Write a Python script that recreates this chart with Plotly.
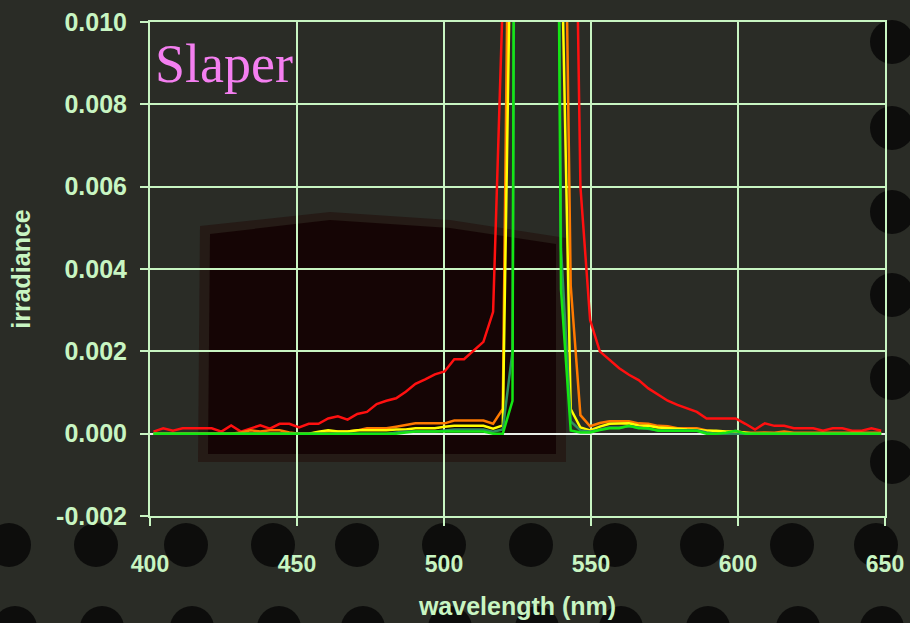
import plotly.graph_objects as go

# ---------------- data ----------------
wavelength = [
    401.2, 404.5, 407.8, 411.1, 414.4, 417.7, 421.0, 424.3, 427.6, 430.9,
    434.2, 437.5, 440.8, 444.1, 447.4, 450.7, 454.0, 457.3, 460.6, 463.9,
    467.2, 470.5, 473.8, 477.1, 480.4, 483.7, 487.0, 490.3, 493.6, 496.9,
    500.2, 503.5, 506.8, 510.1, 513.4, 516.7, 520.0, 523.3, 526.6, 529.9,
    533.2, 536.5, 539.8, 543.1, 546.4, 549.7, 553.0, 556.3, 559.6, 562.9,
    566.2, 569.5, 572.8, 576.1, 579.4, 582.7, 586.0, 589.3, 592.6, 595.9,
    599.2, 602.5, 605.8, 609.1, 612.4, 615.7, 619.0, 622.3, 625.6, 628.9,
    632.2, 635.5, 638.8, 642.1, 645.4, 648.7,
]

red = [
    0.00005, 0.00013, 0.00007, 0.00013, 0.00013, 0.00013, 0.00013, 0.00005, 0.00020, 0.00005,
    0.00012, 0.00020, 0.00012, 0.00024, 0.00024, 0.00015, 0.00024, 0.00024, 0.00037, 0.00042,
    0.00034, 0.00048, 0.00053, 0.00072, 0.00080, 0.00086, 0.00102, 0.00121, 0.00132, 0.00144,
    0.00151, 0.00181, 0.00181, 0.00202, 0.00223, 0.00296, 0.0106, 0.030, 0.060, 0.080,
    0.070, 0.050, 0.035, 0.0216, 0.0060, 0.00276, 0.00200, 0.00179, 0.00159, 0.00143,
    0.00130, 0.00110, 0.00094, 0.00080, 0.00070, 0.00062, 0.00053, 0.00037, 0.00037, 0.00037,
    0.00037, 0.00024, 0.00010, 0.00025, 0.00019, 0.00019, 0.00013, 0.00013, 0.00013, 0.00007,
    0.00013, 0.00013, 0.00007, 0.00007, 0.00013, 0.00007,
]

orange = [
    0, 0, 0, 0, 0, 0, 0, 0, 0, 0.00003,
    0.00008, 0.00005, 0.00008, 0.00008, 0.00003, 0, 0, 0.00003, 0.00005, 0.00005,
    0.00005, 0.00008, 0.00013, 0.00013, 0.00013, 0.00017, 0.00021, 0.00025, 0.00025, 0.00025,
    0.00025, 0.00032, 0.00032, 0.00032, 0.00032, 0.00024, 0.00060, 0.022, 0.060, 0.080,
    0.070, 0.045, 0.0209, 0.0036, 0.00045, 0.00018, 0.00026, 0.00030, 0.00030, 0.00030,
    0.00025, 0.00024, 0.00019, 0.00018, 0.00013, 0.00013, 0.00013, 0.00008, 0.00005, 0.00003,
    0.00005, 0.00002, 0.00002, 0.00003, 0.00002, 0.00005, 0.00002, 0.00002, 0.00002, 0.00002,
    0.00002, 0.00002, 0.00002, 0.00002, 0.00002, 0.00002,
]

yellow = [
    0, 0, 0, 0, 0, 0, 0, 0, 0, 0,
    0, 0, 0, 0, 0, 0, 0, 0.00005, 0.00008, 0.00005,
    0.00005, 0.00008, 0.00008, 0.00008, 0.00008, 0.00010, 0.00010, 0.00013, 0.00013, 0.00013,
    0.00017, 0.00019, 0.00019, 0.00019, 0.00019, 0.00012, 0.00020, 0.0153, 0.050, 0.070,
    0.060, 0.035, 0.0126, 0.0006, 0.00015, 0.00008, 0.00017, 0.00024, 0.00025, 0.00025,
    0.00020, 0.00019, 0.00015, 0.00013, 0.00011, 0.00010, 0.00009, 0.00007, 0.00007, 0.00005,
    0.00005, 0.00002, 0, 0, 0, 0, 0, 0, 0, 0,
    0, 0, 0, 0, 0, 0,
]

dark_green = [
    0, 0, 0, 0, 0, 0, 0, 0, 0, 0,
    0, 0, 0, 0, 0, 0, 0, 0, 0, 0,
    0, 0, 0, 0, 0, 0.00003, 0.00005, 0.00005, 0.00005, 0.00005,
    0.00008, 0.00010, 0.00010, 0.00010, 0.00010, 0.00005, 0.00010, 0.0020, 0.060, 0.080,
    0.070, 0.040, 0.0045, 0.0003, 0.00008, 0.00005, 0.00010, 0.00015, 0.00015, 0.00018,
    0.00015, 0.00012, 0.00008, 0.00008, 0.00008, 0.00008, 0.00008, 0.00003, 0, 0,
    0, 0, 0, 0, 0, 0, 0, 0, 0, 0,
    0, 0, 0, 0, 0, 0,
]

green = [
    0, 0, 0, 0, 0, 0, 0, 0, 0, 0,
    0, 0, 0, 0, 0, 0, 0, 0, 0, 0,
    0, 0, 0, 0, 0, 0, 0.00003, 0.00005, 0.00005, 0.00005,
    0.00005, 0.00005, 0.00005, 0.00005, 0.00005, 0, 0, 0.0008, 0.080, 0.090,
    0.080, 0.036, 0.0035, 0.00008, 0.00003, 0.00003, 0.00009, 0.00013, 0.00013, 0.00019,
    0.00013, 0.00013, 0.00007, 0.00007, 0.00007, 0.00007, 0.00007, 0, 0, 0.00002,
    0.00007, 0, 0, 0, 0, 0, 0, 0, 0, 0,
    0, 0, 0, 0, 0, 0,
]

x_ticks = [400, 450, 500, 550, 600, 650]
x_tick_labels = ["400", "450", "500", "550", "600", "650"]
y_ticks = [-0.002, 0.000, 0.002, 0.004, 0.006, 0.008, 0.010]
y_tick_labels = ["-0.002", "0.000", "0.002", "0.004", "0.006", "0.008", "0.010"]

series = [
    ("red", red, "#ff1010"),
    ("orange", orange, "#ff7a00"),
    ("yellow", yellow, "#ffff00"),
    ("dark green", dark_green, "#2f8f5f"),
    ("green", green, "#14e614"),
]

# ---------------- figure ----------------
W, H = 910, 623
L, R, T, B = 150, 25, 22, 107
PW, PH = W - L - R, H - T - B

def px(x):
    return (x - L) / PW

def py(y):
    return (H - B - y) / PH

TXT = "#c8f5c2"
GRID = "#c8f5c2"

fig = go.Figure()
for name, vals, col in series:
    fig.add_trace(go.Scatter(x=wavelength, y=vals, mode="lines", name=name,
                             line=dict(color=col, width=2.5), showlegend=False))

shapes = []
# dark object behind the plot (photo background)
shapes.append(dict(type="path", layer="below", xref="paper", yref="paper",
                   path=("M {a},{b} L {c},{d} L {e},{f} L {g},{h} L {i},{j} L {k},{l} Z").format(
                       a=px(198), b=py(462), c=px(200), d=py(226), e=px(330), f=py(212),
                       g=px(450), h=py(220), i=px(566), j=py(238), k=px(566), l=py(462)),
                   fillcolor="rgba(30,6,5,0.45)", line=dict(width=0)))
shapes.append(dict(type="path", layer="below", xref="paper", yref="paper",
                   path=("M {a},{b} L {c},{d} L {e},{f} L {g},{h} L {i},{j} L {k},{l} Z").format(
                       a=px(208), b=py(454), c=px(210), d=py(234), e=px(330), f=py(220),
                       g=px(450), h=py(228), i=px(556), j=py(244), k=px(556), l=py(454)),
                   fillcolor="rgba(20,3,3,0.9)", line=dict(width=0)))
# dots of the perforated background
dot_r = 22
dot_centers = []
for cx in [9, 96, 186, 273, 357, 444, 531, 615, 702, 792, 876]:
    dot_centers.append((cx, 545))
    dot_centers.append((cx + 6, 628))
for cy in [42, 128, 212, 295, 378, 462]:
    dot_centers.append((892, cy))
for cx, cy in dot_centers:
    shapes.append(dict(type="circle", layer="below", xref="paper", yref="paper",
                       x0=px(cx - dot_r), x1=px(cx + dot_r),
                       y0=py(cy + dot_r), y1=py(cy - dot_r),
                       fillcolor="rgba(6,6,6,0.8)", line=dict(width=0)))

fig.update_layout(
    width=W, height=H,
    margin=dict(l=L, r=R, t=T, b=B, autoexpand=False),
    paper_bgcolor="#2a2c26",
    plot_bgcolor="rgba(0,0,0,0)",
    shapes=shapes,
    showlegend=False,
    font=dict(family="Liberation Sans, Arial, sans-serif", color=TXT),
    annotations=[dict(text="Slaper", xref="paper", yref="paper",
                      x=px(153), y=py(64), xanchor="left", yanchor="middle",
                      showarrow=False,
                      font=dict(family="Liberation Serif, Times New Roman, serif",
                                size=54, color="#f47ff0"))],
)
fig.update_xaxes(
    range=[400, 650], tickvals=x_ticks, ticktext=x_tick_labels,
    showgrid=True, gridcolor=GRID, gridwidth=2,
    showline=True, linecolor=GRID, linewidth=2, mirror=True,
    ticks="outside", ticklen=8, tickwidth=2, tickcolor=GRID,
    ticklabelstandoff=18,
    tickfont=dict(family="Liberation Sans Narrow, Liberation Sans, Arial, sans-serif",
                  size=23, color=TXT, weight="bold"),
    title=dict(text="wavelength (nm)", standoff=22,
               font=dict(family="Liberation Sans, Arial, sans-serif", size=25,
                         color=TXT, weight="bold")),
    zeroline=False,
)
fig.update_yaxes(
    range=[-0.002, 0.010], tickvals=y_ticks, ticktext=y_tick_labels,
    showgrid=True, gridcolor=GRID, gridwidth=2,
    showline=True, linecolor=GRID, linewidth=2, mirror=True,
    ticks="outside", ticklen=8, tickwidth=2, tickcolor=GRID,
    ticklabelstandoff=8,
    tickfont=dict(family="Liberation Sans, Arial, sans-serif", size=25,
                  color=TXT, weight="bold"),
    title=dict(text="irradiance", standoff=18,
               font=dict(family="Liberation Sans, Arial, sans-serif", size=25,
                         color=TXT, weight="bold")),
    zeroline=True, zerolinecolor="#e8eee8", zerolinewidth=1.5,
)

fig.write_html("out.html", config={"displayModeBar": False},
               post_script="document.body.style.margin='0px';")
